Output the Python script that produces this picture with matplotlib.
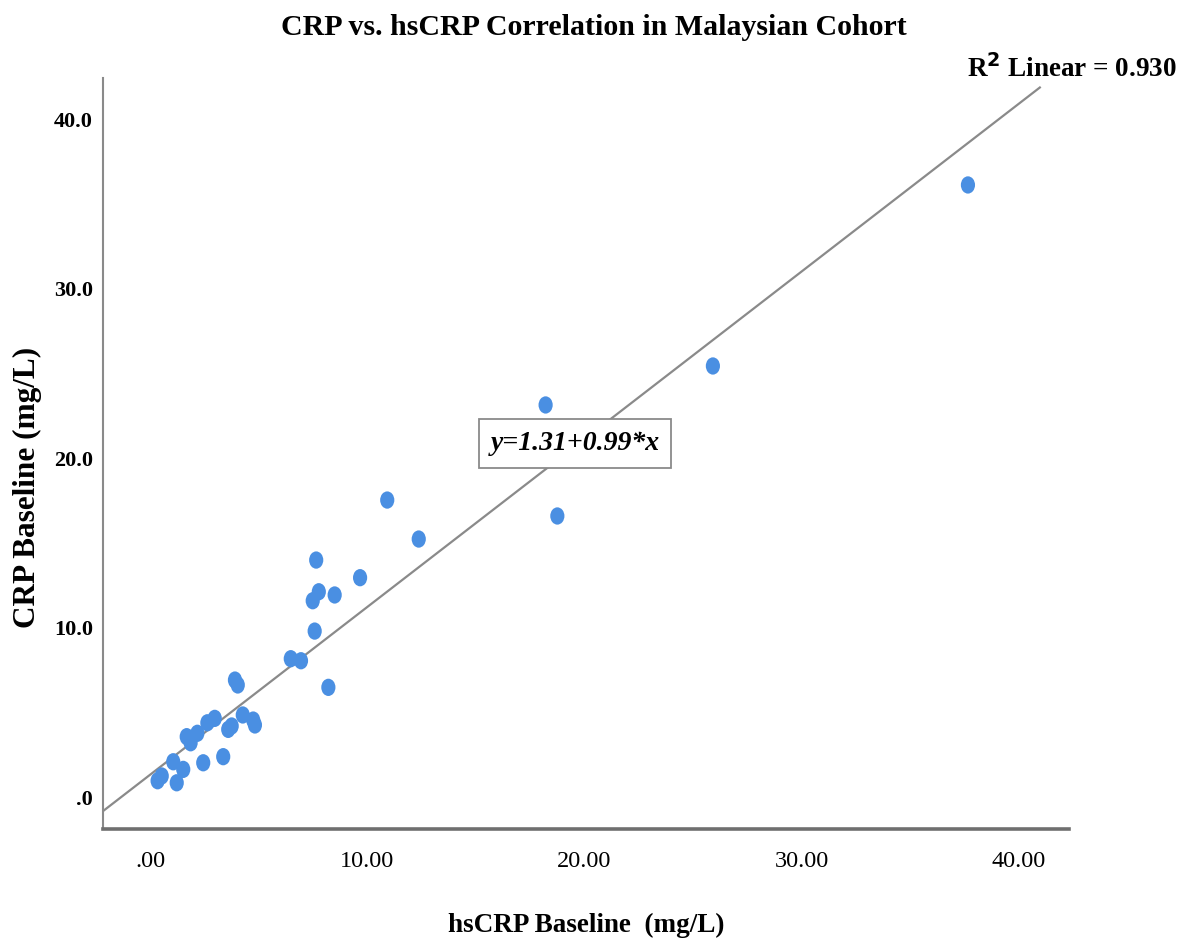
import matplotlib
matplotlib.use("Agg")
import matplotlib.pyplot as plt
import numpy as np
from matplotlib.path import Path
from matplotlib.markers import MarkerStyle
from matplotlib.transforms import Affine2D

# hsCRP (x) and CRP (y) baseline values, mg/L
hscrp = [37.65, 25.91, 18.21, 18.75, 10.92, 12.37, 7.65, 9.67, 8.50, 7.77,
         7.49, 7.58, 6.48, 6.95, 8.21, 3.91, 4.04, 4.27, 4.75, 4.83,
         3.60, 3.76, 2.98, 2.64, 2.18, 1.69, 1.87, 3.37, 2.45, 1.07,
         1.53, 0.54, 0.35, 1.23]
crp = [36.11, 25.43, 23.13, 16.58, 17.52, 15.22, 13.98, 12.94, 11.92, 12.11,
       11.58, 9.79, 8.16, 8.04, 6.47, 6.90, 6.61, 4.84, 4.54, 4.25,
       3.99, 4.19, 4.64, 4.38, 3.76, 3.56, 3.20, 2.38, 2.02, 2.08,
       1.63, 1.24, 0.96, 0.84]

# linear fit reported for the cohort
intercept = 1.31
slope = 0.99
r_squared = 0.930

x_ticks = [0, 10, 20, 30, 40]
x_tick_labels = [".00", "10.00", "20.00", "30.00", "40.00"]
y_ticks = [0, 10, 20, 30, 40]
y_tick_labels = [".0", "10.0", "20.0", "30.0", "40.0"]

serif = ["Liberation Serif", "DejaVu Serif"]
plt.rcParams["font.family"] = serif

fig = plt.figure(figsize=(11.88, 9.49), dpi=100)
ax = fig.add_axes([0.0864, 0.1264, 0.8134, 0.7914])

xlim = (-2.18, 42.3)
ylim = (-1.89, 42.42)
ax.set_xlim(*xlim)
ax.set_ylim(*ylim)

# slightly tall oval marker
oval = Path.unit_circle().transformed(Affine2D().scale(0.82, 1.0))
ax.scatter(hscrp, crp, marker=MarkerStyle(oval), s=155, color="#4A8FE2",
           edgecolors="none", zorder=3)

# fit line
x_end = 41.0
xs = np.array([xlim[0], x_end])
ax.plot(xs, intercept + slope * xs, color="#8a8a8a", lw=1.6, zorder=2,
        solid_capstyle="butt")

ax.text(x_end - 3.4, intercept + slope * x_end + 0.2,
        "R$^{\\mathbf{2}}$ Linear = %.3f" % r_squared,
        fontsize=19.5, fontweight="bold", ha="left", va="bottom",
        clip_on=False, zorder=4)

ax.text(19.56, 20.85, "y=%.2f+%.2f*x" % (intercept, slope),
        fontsize=20, fontweight="bold", fontstyle="italic",
        ha="center", va="center", zorder=5,
        bbox=dict(boxstyle="square,pad=0.42", facecolor="white",
                  edgecolor="#8a8a8a", linewidth=1.3))

for side in ("top", "right"):
    ax.spines[side].set_visible(False)
ax.spines["left"].set_color("#8a8a8a")
ax.spines["left"].set_linewidth(1.5)
ax.spines["bottom"].set_color("#6f6f6f")
ax.spines["bottom"].set_linewidth(2.6)

ax.set_xticks(x_ticks)
ax.set_xticklabels(x_tick_labels, fontsize=17.5)
ax.set_yticks(y_ticks)
ax.set_yticklabels(y_tick_labels, fontsize=16, fontweight="bold")
ax.tick_params(axis="x", length=0, pad=16)
ax.tick_params(axis="y", length=0, pad=7)

ax.set_xlabel("hsCRP Baseline  (mg/L)", fontsize=19.5, fontweight="bold",
              labelpad=29)
ax.set_ylabel("CRP Baseline (mg/L)", fontsize=22.5, fontweight="bold")
ax.yaxis.set_label_coords(-0.063, 0.455)

fig.suptitle("CRP vs. hsCRP Correlation in Malaysian Cohort", fontsize=21.5,
             fontweight="bold", y=0.985)

fig.savefig("out.png", dpi=100, facecolor="white")
